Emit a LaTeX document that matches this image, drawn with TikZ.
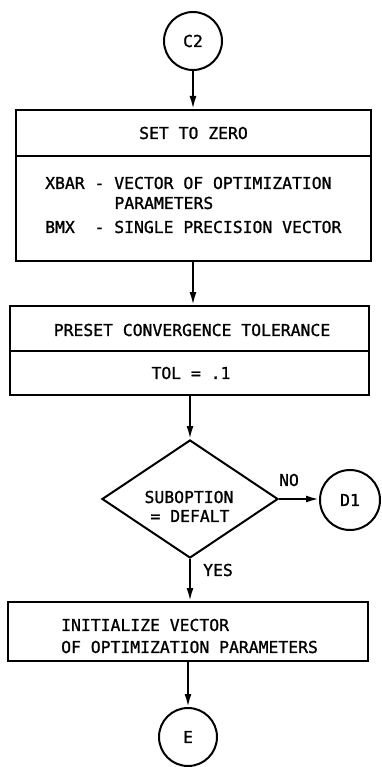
\documentclass[tikz,border=0pt]{standalone}
\usepackage{fontspec}
\newfontfamily\chartfont[FakeBold=1.2]{DejaVu Sans Mono}
\usetikzlibrary{shapes.geometric,arrows.meta}
\begin{document}
\begin{tikzpicture}[x=1bp,y=-1bp,
  every node/.style={font=\chartfont\fontsize{16.4bp}{19bp}\selectfont, inner sep=0},
  stroke/.style={line width=2bp},
  flow/.style={stroke, -{Latex[length=13bp,width=7bp]}},
  conn/.style={draw, stroke, circle, minimum size=58bp},
  cell/.style={draw, stroke, rectangle},
  decision/.style={draw, stroke, diamond, minimum width=176bp, minimum height=118bp}
]
\useasboundingbox (0,0) rectangle (381,767);

% connectors (off-page references)
\node[conn, minimum size=58bp] (c2) at (193,41) {C2};
\node[conn, minimum size=60bp] (d1) at (350,500) {D1};
\node[conn] (e) at (188,737) {E};

% block 1: set to zero
\node[cell, minimum width=355bp, minimum height=46bp] (b1a) at (193.5,133) {SET TO ZERO};
\node[cell, minimum width=355bp, minimum height=105bp] (b1b) at (193.5,208.5) {};
\node[anchor=west] (xbar) at (45,183) {XBAR - VECTOR OF OPTIMIZATION};
\node[anchor=west] (parm) at (114.3,203) {PARAMETERS};
\node[anchor=west] (bmx) at (45,227) {BMX\ \ - SINGLE PRECISION VECTOR};

% block 2: convergence tolerance
\node[cell, minimum width=359bp, minimum height=45bp] (b2a) at (189.5,328.5) {};
\node[cell, minimum width=359bp, minimum height=44bp] (b2b) at (189.5,373) {};
\node (preset) at (192,330) {PRESET CONVERGENCE TOLERANCE};
\node (tol) at (191,373) {TOL = .1};

% decision
\node[decision] (dec) at (190,499) {};
\node (sub1) at (189,497) {SUBOPTION};
\node (sub2) at (190,516) {= DEFALT};
\node (no) at (289,480) {NO};
\node (yes) at (218,570) {YES};

% block 3: initialization
\node[cell, minimum width=360bp, minimum height=59bp] (b3) at (188,631.5) {};
\node[anchor=west] (init1) at (61,625) {INITIALIZE VECTOR};
\node[anchor=west] (init2) at (61,647) {OF OPTIMIZATION PARAMETERS};

% flow lines
\draw[flow] (c2.south) -- (c2.south |- b1a.north);
\draw[flow] (b1b.south -| c2) -- (b2a.north -| c2);
\draw[flow] (b2b.south -| dec.north) -- (dec.north);
\draw[flow] (dec.south) -- (dec.south |- b3.north);
\draw[flow] (dec.east) -- (dec.east -| d1.west);
\draw[flow] (b3.south -| e) -- (e.north);
\end{tikzpicture}
\end{document}
